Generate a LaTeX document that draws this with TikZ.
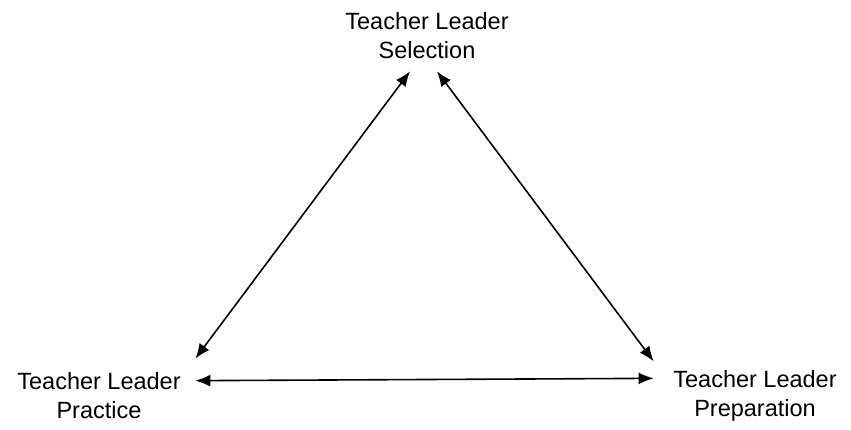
\documentclass[tikz,border=0pt]{standalone}
\usepackage{fontspec}
\setmainfont{Liberation Sans}
\usetikzlibrary{arrows.meta}
\begin{document}
\begin{tikzpicture}[x=1pt,y=-1pt,
  lbl/.style={align=center,inner sep=0pt,font=\fontsize{23.5}{29}\selectfont},
  arr/.style={line width=1.6pt,{Latex[length=15pt,width=12pt]}-{Latex[length=15pt,width=12pt]}}]
\useasboundingbox[fill=white] (0,0) rectangle (851,430);
\node[lbl] (sel) at (427,36) {Teacher Leader\\Selection};
\node[lbl] (prac) at (99,396) {Teacher Leader\\Practice};
\node[lbl] (prep) at (755,396) {Teacher Leader\\Preparation};
\coordinate (selL) at ([shift={(-17,12)}]sel.south);
\coordinate (selR) at ([shift={(10,12)}]sel.south);
\coordinate (pracT) at ([shift={(14.5,-14)}]prac.north east);
\coordinate (pracR) at ([shift={(14.5,8)}]prac.north east);
\coordinate (prepT) at ([shift={(-19.5,-9)}]prep.north west);
\coordinate (prepL) at ([shift={(-19.5,8)}]prep.north west);
\draw[arr] (selL) -- (pracT);
\draw[arr] (selR) -- (prepT);
\draw[arr] (pracR) -- (prepL);
\end{tikzpicture}
\end{document}
